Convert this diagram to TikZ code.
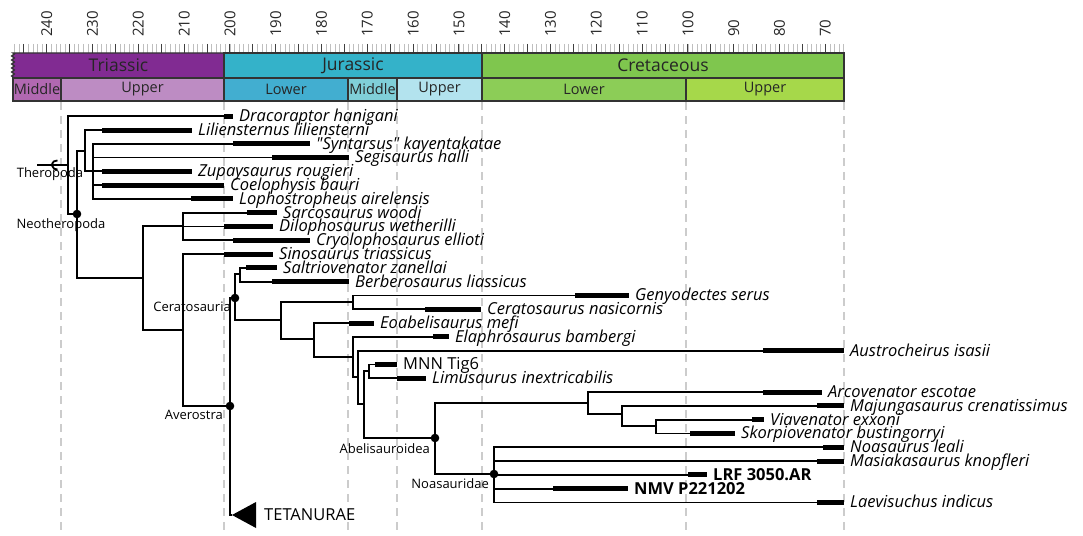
\documentclass[tikz,border=0pt]{standalone}
\usepackage{fontspec}
\setmainfont{Open Sans}
\usepackage{xcolor}
\usepackage{tikz}
\usetikzlibrary{positioning}
\usetikzlibrary{decorations.pathmorphing}
\definecolor{triassic}{RGB}{129,43,146}
\definecolor{midtri}{RGB}{177,104,177}
\definecolor{uptri}{RGB}{189,140,195}
\definecolor{jurassic}{RGB}{52,178,201}
\definecolor{lowjur}{RGB}{66,174,208}
\definecolor{midjur}{RGB}{128,207,216}
\definecolor{upjur}{RGB}{179,227,238}
\definecolor{cretaceous}{RGB}{127,198,78}
\definecolor{lowcre}{RGB}{140,205,87}
\definecolor{upcre}{RGB}{166,216,74}
\definecolor{boundgray}{RGB}{204,204,204}
\newcommand{\agex}[1]{224+(201.3-#1)*4.58}

\begin{document}
\begin{tikzpicture}[
  x=1pt, y=-1pt,
  taxon/.style={anchor=west, inner xsep=6pt, inner ysep=0pt, text height=12pt, text depth=1pt, font=\fontsize{16.5}{17}\selectfont\itshape},
  specimen/.style={taxon, font=\fontsize{16.5}{17}\selectfont\bfseries},
  uptaxon/.style={taxon, font=\fontsize{16.5}{17}\selectfont},
  clade/.style={inner sep=1pt, font=\fontsize{13}{14}\selectfont},
  branch/.style={line width=1.8pt},
  stratbar/.style={line width=5pt},
  bound/.style={draw=boundgray, line width=2pt, dash pattern=on 8pt off 6pt},
  scalebox/.style={draw=black!80, line width=1.4pt},
  periodlabel/.style={text=black!85, font=\fontsize{17.5}{18}\selectfont},
  epochlabel/.style={text=black!85, font=\fontsize{14.5}{15}\selectfont},
  agelabel/.style={rotate=90, anchor=west, inner sep=1pt, text=black!85, font=\fontsize{15}{16}\selectfont},
  minortick/.style={draw=black!25, line width=0.8pt},
  majortick/.style={draw=black!75, line width=1pt}
]
\useasboundingbox (0,0) rectangle (1083,535);

% time scale
\foreach \m in {66,...,247} {\draw[minortick] ({\agex{\m}},44) -- ({\agex{\m}},53);}
\foreach \m in {70,75,...,245} {\draw[majortick] ({\agex{\m}},44) -- ({\agex{\m}},53);}
\foreach \m in {70,80,...,240} {\node[agelabel] at ({\agex{\m}},38) {\m};}

\draw[scalebox, fill=triassic] (224,53) -- (13,53) decorate[decoration={zigzag, segment length=4pt, amplitude=1.3pt}] {-- (13,78)} -- (224,78) -- cycle;
\draw[scalebox, fill=jurassic] (224,53) rectangle (482,78);
\draw[scalebox, fill=cretaceous] (482,53) rectangle (844,78);
\node[periodlabel] (tri) at (118.5,65.5) {Triassic};
\node[periodlabel] (jur) at (353,65.5) {Jurassic};
\node[periodlabel] (cre) at (663,65.5) {Cretaceous};

\draw[scalebox, fill=midtri] (13,78) rectangle (61,101);
\draw[scalebox, fill=uptri] (61,78) rectangle (224,101);
\draw[scalebox, fill=lowjur] (224,78) rectangle (348,101);
\draw[scalebox, fill=midjur] (348,78) rectangle (397,101);
\draw[scalebox, fill=upjur] (397,78) rectangle (482,101);
\draw[scalebox, fill=lowcre] (482,78) rectangle (686,101);
\draw[scalebox, fill=upcre] (686,78) rectangle (844,101);
\node[epochlabel] (trimid) at (37,89.5) {Middle};
\node[epochlabel] (triup) at (142.5,89.5) {Upper};
\node[epochlabel] (jurlow) at (286,89.5) {Lower};
\node[epochlabel] (jurmid) at (372.5,89.5) {Middle};
\node[epochlabel] (jurup) at (439.5,89.5) {Upper};
\node[epochlabel] (crelow) at (584,89.5) {Lower};
\node[epochlabel] (creup) at (765,89.5) {Upper};

\foreach \b in {61,224,348,397,482,686,844} {\draw[bound] (\b,102) -- (\b,535);}

% internal nodes
\coordinate (stem) at (37,165);
\coordinate (theropoda) at (68,165);
\coordinate (neotheropoda) at (77,214);
\coordinate (coelo) at (85,151);
\coordinate (coelpoly) at (93,171);
\coordinate (nodeb) at (143,278);
\coordinate (dilo) at (183,226);
\coordinate (avebig) at (183,330);
\coordinate (averostra) at (230,406);
\coordinate (ceratosauria) at (235,298);
\coordinate (tetanurae) at (232,515);
\coordinate (saltberb) at (240,274);
\coordinate (cerlow) at (281,320);
\coordinate (ceratos) at (353,302);
\coordinate (abelbig) at (314,339);
\coordinate (elaph) at (353,357);
\coordinate (austro) at (358,377);
\coordinate (limusaur) at (364,404);
\coordinate (mnnlim) at (369,371);
\coordinate (abelisauroidea) at (435,438);
\coordinate (abelisauridae) at (588,403);
\coordinate (majung) at (622,414);
\coordinate (viask) at (656,426);
\coordinate (noasauridae) at (494,474);

% range starts
\coordinate (draS) at (224,116);
\coordinate (lilS) at (102,130);
\coordinate (synS) at (233,143.6);
\coordinate (segS) at (272,157.4);
\coordinate (zupS) at (102,171.2);
\coordinate (coeS) at (102,185);
\coordinate (lopS) at (191,198.8);
\coordinate (sarS) at (247,212.6);
\coordinate (dilS) at (224,226.4);
\coordinate (cryS) at (233,240.2);
\coordinate (sinS) at (224,254);
\coordinate (salS) at (246,267.8);
\coordinate (berS) at (272,281.6);
\coordinate (genS) at (575,295.4);
\coordinate (cerS) at (425,309.2);
\coordinate (eoaS) at (349,323);
\coordinate (elaS) at (433,336.8);
\coordinate (ausS) at (763,350.6);
\coordinate (mnnS) at (375,364.4);
\coordinate (limS) at (397,378.2);
\coordinate (arcS) at (763,392);
\coordinate (majS) at (817,405.8);
\coordinate (viaS) at (752,419.6);
\coordinate (skoS) at (690,433.4);
\coordinate (noaS) at (823,447.2);
\coordinate (masS) at (817,461);
\coordinate (lrfS) at (688,474.8);
\coordinate (nmvS) at (553,488.6);
\coordinate (laeS) at (817,502.4);

% taxa
\node[taxon] (dra) at (233,116) {Dracoraptor hanigani};
\node[taxon] (lil) at (192,130) {Liliensternus liliensterni};
\node[taxon] (syn) at (310,143.6) {\textquotedbl Syntarsus\textquotedbl{} kayentakatae};
\node[taxon] (seg) at (349,157.4) {Segisaurus halli};
\node[taxon] (zup) at (192,171.2) {Zupaysaurus rougieri};
\node[taxon] (coe) at (224,185) {Coelophysis bauri};
\node[taxon] (lop) at (233,198.8) {Lophostropheus airelensis};
\node[taxon] (sar) at (277,212.6) {Sarcosaurus woodi};
\node[taxon] (dil) at (273,226.4) {Dilophosaurus wetherilli};
\node[taxon] (cry) at (310,240.2) {Cryolophosaurus ellioti};
\node[taxon] (sin) at (273,254) {Sinosaurus triassicus};
\node[taxon] (sal) at (277,267.8) {Saltriovenator zanellai};
\node[taxon] (ber) at (349,281.6) {Berberosaurus liassicus};
\node[taxon] (gen) at (629,295.4) {Genyodectes serus};
\node[taxon] (cer) at (481,309.2) {Ceratosaurus nasicornis};
\node[taxon] (eoa) at (374,323) {Eoabelisaurus mefi};
\node[taxon] (ela) at (449,336.8) {Elaphrosaurus bambergi};
\node[taxon] (aus) at (844,350.6) {Austrocheirus isasii};
\node[uptaxon] (mnn) at (397,364.4) {MNN Tig6};
\node[taxon] (lim) at (426,378.2) {Limusaurus inextricabilis};
\node[taxon] (arc) at (822,392) {Arcovenator escotae};
\node[taxon] (maj) at (844,405.8) {Majungasaurus crenatissimus};
\node[taxon] (via) at (764,419.6) {Viavenator exxoni};
\node[taxon] (sko) at (735,433.4) {Skorpiovenator bustingorryi};
\node[taxon] (noa) at (844,447.2) {Noasaurus leali};
\node[taxon] (mas) at (844,461) {Masiakasaurus knopfleri};
\node[specimen] (lrf) at (707,474.8) {LRF 3050.AR};
\node[specimen] (nmv) at (628,488.6) {NMV P221202};
\node[taxon] (lae) at (844,502.4) {Laevisuchus indicus};

% branches
\draw[branch] (stem) -- (theropoda);
\draw[branch] (57.5,169.5) arc[start angle=80, end angle=280, radius=4.6];
\draw[branch] (theropoda) |- (draS);
\draw[branch] (theropoda) |- (neotheropoda);
\draw[branch] (neotheropoda) |- (coelo);
\draw[branch] (neotheropoda) |- (nodeb);
\draw[branch] (coelo) |- (lilS);
\draw[branch] (coelo) |- (coelpoly);
\draw[branch] (coelpoly) |- (synS);
\draw[branch] (coelpoly) |- (segS);
\draw[branch] (coelpoly) |- (zupS);
\draw[branch] (coelpoly) |- (coeS);
\draw[branch] (coelpoly) |- (lopS);
\draw[branch] (nodeb) |- (dilo);
\draw[branch] (nodeb) |- (avebig);
\draw[branch] (dilo) |- (sarS);
\draw[branch] (dilo) |- (dilS);
\draw[branch] (dilo) |- (cryS);
\draw[branch] (avebig) |- (sinS);
\draw[branch] (avebig) |- (averostra);
\draw[branch] (averostra) |- (ceratosauria);
\draw[branch] (averostra) |- (tetanurae);
\draw[branch] (ceratosauria) |- (saltberb);
\draw[branch] (ceratosauria) |- (cerlow);
\draw[branch] (saltberb) |- (salS);
\draw[branch] (saltberb) |- (berS);
\draw[branch] (cerlow) |- (ceratos);
\draw[branch] (cerlow) |- (abelbig);
\draw[branch] (ceratos) |- (genS);
\draw[branch] (ceratos) |- (cerS);
\draw[branch] (abelbig) |- (eoaS);
\draw[branch] (abelbig) |- (elaph);
\draw[branch] (elaph) |- (elaS);
\draw[branch] (elaph) |- (austro);
\draw[branch] (austro) |- (ausS);
\draw[branch] (austro) |- (limusaur);
\draw[branch] (limusaur) |- (mnnlim);
\draw[branch] (limusaur) |- (abelisauroidea);
\draw[branch] (mnnlim) |- (mnnS);
\draw[branch] (mnnlim) |- (limS);
\draw[branch] (abelisauroidea) |- (abelisauridae);
\draw[branch] (abelisauroidea) |- (noasauridae);
\draw[branch] (abelisauridae) |- (arcS);
\draw[branch] (abelisauridae) |- (majung);
\draw[branch] (majung) |- (majS);
\draw[branch] (majung) |- (viask);
\draw[branch] (viask) |- (viaS);
\draw[branch] (viask) |- (skoS);
\draw[branch] (noasauridae) |- (noaS);
\draw[branch] (noasauridae) |- (masS);
\draw[branch] (noasauridae) |- (lrfS);
\draw[branch] (noasauridae) |- (nmvS);
\draw[branch] (noasauridae) |- (laeS);

% ranges
\draw[stratbar] (draS) -- (dra.west);
\draw[stratbar] (lilS) -- (lil.west);
\draw[stratbar] (synS) -- (syn.west);
\draw[stratbar] (segS) -- (seg.west);
\draw[stratbar] (zupS) -- (zup.west);
\draw[stratbar] (coeS) -- (coe.west);
\draw[stratbar] (lopS) -- (lop.west);
\draw[stratbar] (sarS) -- (sar.west);
\draw[stratbar] (dilS) -- (dil.west);
\draw[stratbar] (cryS) -- (cry.west);
\draw[stratbar] (sinS) -- (sin.west);
\draw[stratbar] (salS) -- (sal.west);
\draw[stratbar] (berS) -- (ber.west);
\draw[stratbar] (genS) -- (gen.west);
\draw[stratbar] (cerS) -- (cer.west);
\draw[stratbar] (eoaS) -- (eoa.west);
\draw[stratbar] (elaS) -- (ela.west);
\draw[stratbar] (ausS) -- (aus.west);
\draw[stratbar] (mnnS) -- (mnn.west);
\draw[stratbar] (limS) -- (lim.west);
\draw[stratbar] (arcS) -- (arc.west);
\draw[stratbar] (majS) -- (maj.west);
\draw[stratbar] (viaS) -- (via.west);
\draw[stratbar] (skoS) -- (sko.west);
\draw[stratbar] (noaS) -- (noa.west);
\draw[stratbar] (masS) -- (mas.west);
\draw[stratbar] (lrfS) -- (lrf.west);
\draw[stratbar] (nmvS) -- (nmv.west);
\draw[stratbar] (laeS) -- (lae.west);

% clades
\fill (neotheropoda) circle (4.3);
\fill (ceratosauria) circle (4.3);
\fill (averostra) circle (4.3);
\fill (abelisauroidea) circle (4.3);
\fill (noasauridae) circle (4.3);
\fill (tetanurae) -- (256,502) -- (256,528) -- cycle;

\node[clade] (therolabel) at (50,174) {Theropoda};
\node[clade, below=3pt of neotheropoda, xshift=-16pt] (neolabel) {Neotheropoda};
\node[clade, below left=3pt and 3pt of ceratosauria] (ceralabel) {Ceratosauria};
\node[clade, below left=3pt and 6pt of averostra] (averlabel) {Averostra};
\node[clade, below left=4pt and 4pt of abelisauroidea] (abellabel) {Abelisauroidea};
\node[clade, below left=3pt and 4pt of noasauridae] (noalabel) {Noasauridae};
\node[uptaxon, inner xsep=4pt] (tetlabel) at (260,515) {TETANURAE};

\end{tikzpicture}
\end{document}
